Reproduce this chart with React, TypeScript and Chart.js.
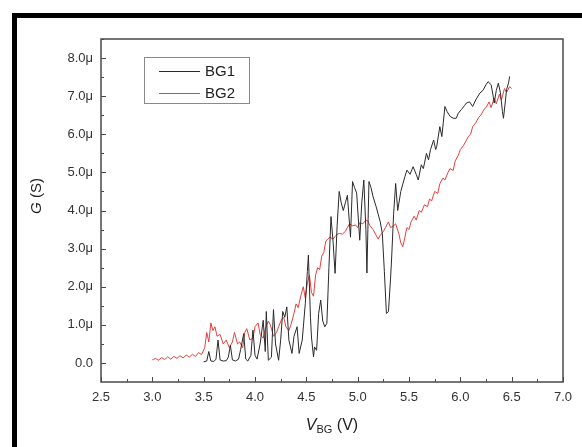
import React, { useEffect, useRef } from "react";
import { Chart, registerables } from "chart.js";

Chart.register(...registerables);

// BG1 (black) — gate voltage (V) and conductance (μS)
const bg1V = [3.5,3.53,3.55,3.57,3.6,3.62,3.64,3.66,3.69,3.72,3.74,3.76,3.78,3.81,3.84,3.86,3.89,3.91,3.93,3.96,3.98,4.0,4.02,4.05,4.08,4.1,4.11,4.13,4.16,4.18,4.2,4.23,4.25,4.27,4.29,4.31,4.33,4.36,4.38,4.41,4.43,4.46,4.49,4.51,4.52,4.54,4.55,4.57,4.58,4.6,4.62,4.64,4.66,4.68,4.7,4.72,4.74,4.76,4.78,4.8,4.82,4.84,4.86,4.88,4.9,4.93,4.95,4.97,4.99,5.02,5.04,5.06,5.08,5.09,5.11,5.13,5.15,5.18,5.2,5.22,5.24,5.26,5.28,5.3,5.32,5.33,5.35,5.37,5.39,5.42,5.46,5.48,5.51,5.54,5.57,5.59,5.62,5.64,5.67,5.69,5.71,5.74,5.76,5.77,5.8,5.82,5.85,5.87,5.9,5.93,5.96,5.98,6.01,6.04,6.06,6.09,6.12,6.15,6.19,6.22,6.25,6.27,6.3,6.32,6.33,6.35,6.37,6.39,6.41,6.42,6.44,6.45,6.47,6.48];
const bg1G = [0.03,0.05,0.3,0.05,0.04,0.1,0.6,0.08,0.05,0.06,0.15,0.46,0.08,0.05,0.1,0.35,0.77,0.1,0.05,0.2,0.86,0.2,0.1,0.5,1.12,0.3,1.35,0.07,0.15,1.4,0.5,0.07,0.6,1.35,1.2,1.47,0.6,0.25,0.7,0.95,0.25,0.6,1.56,2.4,2.83,1.2,0.68,0.16,0.42,0.33,1.3,1.65,1.1,0.95,1.04,2.5,3.84,3.2,2.35,3.6,4.5,4.2,4.0,4.2,4.4,3.3,4.76,4.6,4.46,3.22,4.2,4.8,3.5,2.36,4.76,4.6,4.36,4.1,3.9,3.7,3.4,2.4,1.3,1.35,2.2,2.7,3.9,4.71,4.0,4.5,4.89,5.06,4.95,5.15,4.95,4.8,5.2,5.1,5.5,5.33,5.6,5.85,5.6,5.68,6.2,5.94,6.73,6.6,6.47,6.42,6.42,6.55,6.65,6.75,6.82,6.85,6.73,6.9,7.08,7.15,7.3,7.38,7.3,7.0,6.82,7.15,7.34,7.1,6.6,6.42,6.9,7.17,7.35,7.52];

// BG2 (red)
const bg2V = [3.0,3.03,3.06,3.09,3.12,3.15,3.18,3.21,3.24,3.27,3.3,3.33,3.36,3.39,3.42,3.45,3.48,3.51,3.53,3.55,3.57,3.59,3.61,3.63,3.66,3.69,3.72,3.75,3.78,3.8,3.83,3.85,3.88,3.9,3.92,3.95,3.98,4.0,4.03,4.05,4.08,4.1,4.13,4.15,4.18,4.21,4.23,4.26,4.28,4.3,4.33,4.35,4.38,4.4,4.42,4.45,4.47,4.49,4.51,4.53,4.55,4.57,4.59,4.61,4.63,4.65,4.67,4.69,4.71,4.73,4.76,4.79,4.82,4.85,4.88,4.9,4.92,4.95,4.98,5.0,5.02,5.05,5.08,5.1,5.12,5.15,5.18,5.2,5.22,5.25,5.27,5.3,5.32,5.35,5.37,5.4,5.42,5.44,5.46,5.48,5.5,5.52,5.55,5.57,5.6,5.62,5.65,5.68,5.7,5.72,5.75,5.78,5.8,5.83,5.85,5.88,5.9,5.93,5.95,5.98,6.0,6.03,6.05,6.08,6.1,6.12,6.15,6.18,6.2,6.23,6.25,6.28,6.3,6.33,6.35,6.38,6.4,6.43,6.45,6.48,6.5];
const bg2G = [0.08,0.12,0.07,0.14,0.09,0.16,0.1,0.17,0.12,0.19,0.13,0.21,0.15,0.23,0.17,0.27,0.22,0.4,0.8,0.55,1.05,0.85,0.95,0.7,0.75,0.5,0.6,0.4,0.55,0.8,0.5,0.55,0.4,0.8,0.9,0.6,0.65,0.95,1.05,0.75,0.65,0.9,1.1,1.0,0.7,0.8,0.95,1.15,1.2,0.95,0.85,1.0,1.3,1.55,1.45,1.8,2.0,1.7,2.1,2.3,1.85,1.75,2.3,2.5,2.45,2.8,2.9,3.2,3.25,3.3,3.25,3.35,3.4,3.38,3.45,3.55,3.65,3.6,3.62,3.55,3.68,3.65,3.75,3.72,3.6,3.5,3.35,3.25,3.35,3.45,3.55,3.7,3.55,3.6,3.65,3.4,3.15,3.05,3.3,3.55,3.5,3.7,3.85,3.75,4.0,3.95,4.15,4.1,4.3,4.25,4.5,4.45,4.7,4.85,4.8,5.0,5.1,5.05,5.3,5.45,5.6,5.7,5.8,5.95,6.0,6.2,6.3,6.45,6.5,6.65,6.7,6.85,6.7,6.95,6.8,7.05,6.9,7.2,7.1,7.25,7.2];

const seriesLabels = ["BG1", "BG2"];
const seriesColors = ["#2a2a2a", "#e2403c"];
const xTicks = [2.5, 3.0, 3.5, 4.0, 4.5, 5.0, 5.5, 6.0, 6.5, 7.0];
const yTicks = [0, 1, 2, 3, 4, 5, 6, 7, 8];

const FONT = "'Liberation Sans', Arial, sans-serif";

const decorPlugin = {
  id: "decor",
  afterDraw(chart: any) {
    const { ctx, chartArea: a, scales } = chart;
    const xs = scales.x;
    const ys = scales.y;
    ctx.save();
    // frame
    ctx.strokeStyle = "#4a4a4a";
    ctx.lineWidth = 1.5;
    ctx.strokeRect(a.left, a.top, a.right - a.left, a.bottom - a.top);
    // x ticks (inward)
    ctx.lineWidth = 1;
    ctx.strokeStyle = "#4a4a4a";
    ctx.beginPath();
    for (let i = 0; i < xTicks.length; i++) {
      const px = Math.round(xs.getPixelForValue(xTicks[i])) + 0.5;
      ctx.moveTo(px, a.bottom);
      ctx.lineTo(px, a.bottom - 5);
      if (i < xTicks.length - 1) {
        const mx = Math.round(xs.getPixelForValue((xTicks[i] + xTicks[i + 1]) / 2)) + 0.5;
        ctx.moveTo(mx, a.bottom);
        ctx.lineTo(mx, a.bottom - 3);
      }
    }
    for (let i = 0; i < yTicks.length; i++) {
      const py = Math.round(ys.getPixelForValue(yTicks[i])) + 0.5;
      ctx.moveTo(a.left, py);
      ctx.lineTo(a.left + 5, py);
      const mv = yTicks[i] + 0.5;
      const my = Math.round(ys.getPixelForValue(mv)) + 0.5;
      ctx.moveTo(a.left, my);
      ctx.lineTo(a.left + 3, my);
    }
    ctx.stroke();

    // legend
    const lx = a.left + 43;
    const ly = a.top + 18;
    ctx.strokeStyle = "#8a8a8a";
    ctx.lineWidth = 1;
    ctx.strokeRect(lx + 0.5, ly + 0.5, 105, 46);
    chart.data.datasets.forEach((ds: any, i: number) => {
      const yy = ly + 14 + i * 22;
      ctx.strokeStyle = ds.borderColor;
      ctx.lineWidth = 1;
      ctx.beginPath();
      ctx.moveTo(lx + 15, yy + 0.5);
      ctx.lineTo(lx + 56, yy + 0.5);
      ctx.stroke();
      ctx.fillStyle = "#222";
      ctx.font = `15px ${FONT}`;
      ctx.textAlign = "left";
      ctx.textBaseline = "middle";
      ctx.fillText(ds.label, lx + 61, yy + 1);
    });

    // x title: V_BG (V)
    ctx.fillStyle = "#222";
    ctx.textBaseline = "alphabetic";
    const cx = (a.left + a.right) / 2;
    const by = 430;
    const partV = "V";
    const partSub = "BG";
    const partRest = " (V)";
    ctx.font = `italic 16px ${FONT}`;
    const wV = ctx.measureText(partV).width;
    ctx.font = `11px ${FONT}`;
    const wS = ctx.measureText(partSub).width;
    ctx.font = `16px ${FONT}`;
    const wR = ctx.measureText(partRest).width;
    let sx = cx - (wV + wS + wR) / 2;
    ctx.textAlign = "left";
    ctx.font = `italic 16px ${FONT}`;
    ctx.fillText(partV, sx, by);
    sx += wV;
    ctx.font = `11px ${FONT}`;
    ctx.fillText(partSub, sx, by + 3);
    sx += wS;
    ctx.font = `16px ${FONT}`;
    ctx.fillText(partRest, sx, by);

    // y title: G (S)
    ctx.save();
    ctx.translate(41, 196);
    ctx.rotate(-Math.PI / 2);
    ctx.font = `italic 15px ${FONT}`;
    const wG = ctx.measureText("G").width;
    ctx.font = `15px ${FONT}`;
    const wSS = ctx.measureText(" (S)").width;
    let tx = -(wG + wSS) / 2;
    ctx.font = `italic 15px ${FONT}`;
    ctx.fillText("G", tx, 0);
    tx += wG;
    ctx.font = `15px ${FONT}`;
    ctx.fillText(" (S)", tx, 0);
    ctx.restore();

    ctx.restore();
  },
};

export default function App() {
  const ref = useRef<HTMLCanvasElement | null>(null);
  useEffect(() => {
    if (!ref.current) return;
    const chart = new Chart(ref.current, {
      type: "line",
      data: {
        datasets: [
          {
            label: seriesLabels[0],
            data: bg1V.map((v, i) => ({ x: v, y: bg1G[i] })),
            borderColor: seriesColors[0],
            borderWidth: 1,
            pointRadius: 0,
            tension: 0,
            fill: false,
          },
          {
            label: seriesLabels[1],
            data: bg2V.map((v, i) => ({ x: v, y: bg2G[i] })),
            borderColor: seriesColors[1],
            borderWidth: 1,
            pointRadius: 0,
            tension: 0,
            fill: false,
          },
        ],
      },
      options: {
        animation: false,
        responsive: false,
        devicePixelRatio: 1,
        layout: { padding: { left: 0, right: 19, top: 39, bottom: 0 } },
        plugins: { legend: { display: false }, tooltip: { enabled: false } },
        scales: {
          x: {
            type: "linear",
            min: 2.5,
            max: 7.0,
            afterFit: (s: any) => {
              s.height = 65;
            },
            afterBuildTicks: (s: any) => {
              s.ticks = xTicks.map((v) => ({ value: v }));
            },
            grid: { display: false, drawTicks: false },
            border: { display: false },
            ticks: {
              padding: 8,
              color: "#333",
              font: { family: FONT, size: 13 },
              maxRotation: 0,
              autoSkip: false,
              callback: (v: any) => Number(v).toFixed(1),
            },
          },
          y: {
            type: "linear",
            min: -0.5,
            max: 8.5,
            afterFit: (s: any) => {
              s.width = 101;
            },
            afterBuildTicks: (s: any) => {
              s.ticks = yTicks.map((v) => ({ value: v }));
            },
            grid: { display: false, drawTicks: false },
            border: { display: false },
            ticks: {
              padding: 8,
              color: "#333",
              font: { family: FONT, size: 13 },
              autoSkip: false,
              callback: (v: any) => (Number(v) === 0 ? "0.0" : Number(v).toFixed(1) + "μ"),
            },
          },
        },
      },
      plugins: [decorPlugin],
    });
    return () => chart.destroy();
  }, []);

  return (
    <div style={{ position: "fixed", left: 0, top: 0, width: 582, height: 447, background: "#fff" }}>
      <div
        style={{
          position: "absolute",
          left: 12,
          top: 13,
          right: 0,
          bottom: 0,
          borderTop: "5px solid #000",
          borderLeft: "5px solid #000",
        }}
      />
      <canvas ref={ref} width={582} height={447} style={{ position: "absolute", left: 0, top: 0 }} />
    </div>
  );
}
